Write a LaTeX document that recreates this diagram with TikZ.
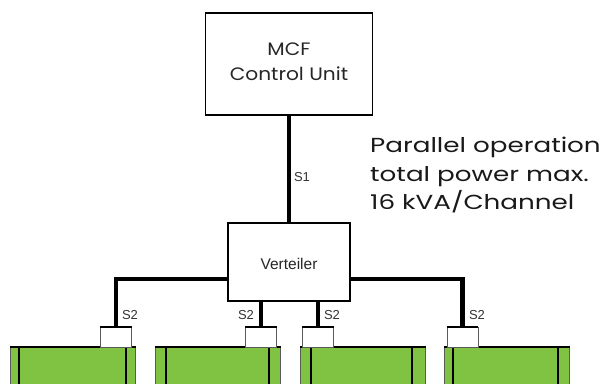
\documentclass[tikz,border=0pt]{standalone}
\usepackage{fontspec}
\setmainfont{Liberation Sans}
\newfontfamily\geo{Poppins}
\newfontfamily\geowide[FakeStretch=1.29]{Poppins}
\newfontfamily\geomid[FakeStretch=1.12]{Poppins}
\definecolor{ledgreen}{RGB}{128,194,66}
\definecolor{edgegrey}{RGB}{90,90,90}
\begin{document}
\begin{tikzpicture}[x=1pt,y=-1pt,
  box/.style={draw=black,line width=1.5pt,fill=white,inner sep=0pt},
  bus/.style={line width=4.5pt,line cap=butt},
  lbl/.style={font=\fontsize{13}{14}\selectfont,text=black!80,inner sep=0pt},
  plug/.style={draw=edgegrey,line width=0.8pt,fill=white,minimum width=31pt,minimum height=20pt,inner sep=0pt},
  module/.style={fill=ledgreen,draw=edgegrey,line width=0.8pt,minimum width=125pt,minimum height=60pt,inner sep=0pt,anchor=north west}]
\clip (0,0) rectangle (601,383);
\fill[white] (0,0) rectangle (601,383);
% control unit
\node[box,minimum width=167pt,minimum height=102pt] (mcf) at (289,64) {};
\node[font=\geomid\fontsize{18}{25}\selectfont,align=center,text=black!85] (mcft) at (289,62) {MCF\\Control Unit};
% distributor
\node[box,minimum width=122pt,minimum height=78pt] (vert) at (289,262) {};
\node[font=\fontsize{15.5}{17}\selectfont,text=black!85] (vertt) at (289,264) {Verteiler};
% note
\node[font=\geowide\fontsize{20.3}{28.5}\selectfont,align=left,anchor=north west,inner sep=0pt,text=black!90] (note) at (370,137) {Parallel operation\\total power max.\\16 kVA/Channel};
% modules
\node[module] (m1) at (10,347) {};
\node[module] (m2) at (155,347) {};
\node[module] (m3) at (300,347) {};
\node[module] (m4) at (444,347) {};
\foreach \m/\a/\b in {m1/19/126,m2/166/269,m3/311/412,m4/453/558}{
  \draw[line width=1.5pt] (\m.north west) -- (\m.north east);
  \draw[line width=1.4pt] (\a,347) -- (\a,390);
  \draw[line width=1.4pt] (\b,347) -- (\b,390);
}
% plugs
\node[plug] (p1) at (116,337) {};
\node[plug] (p2) at (261,337) {};
\node[plug] (p3) at (318,337) {};
\node[plug] (p4) at (462.5,337) {};
\foreach \p in {p1,p2,p3,p4}{\draw[line width=2pt] (\p.north west) -- (\p.north east);}
% buses
\coordinate (bl) at (228,279);
\coordinate (br) at (350,279);
\draw[bus] (mcf.south) -- (vert.north);
\draw[bus] (bl) -| (p1.north);
\draw[bus] (br) -| (p4.north);
\draw[bus] (p2.north |- vert.south) -- (p2.north);
\draw[bus] (p3.north |- vert.south) -- (p3.north);
% labels
\node[lbl] (s1) at (302,177) {S1};
\node[lbl] (s2a) at (130,315) {S2};
\node[lbl] (s2b) at (246,315) {S2};
\node[lbl] (s2c) at (332,315) {S2};
\node[lbl] (s2d) at (477,315) {S2};
\end{tikzpicture}
\end{document}
